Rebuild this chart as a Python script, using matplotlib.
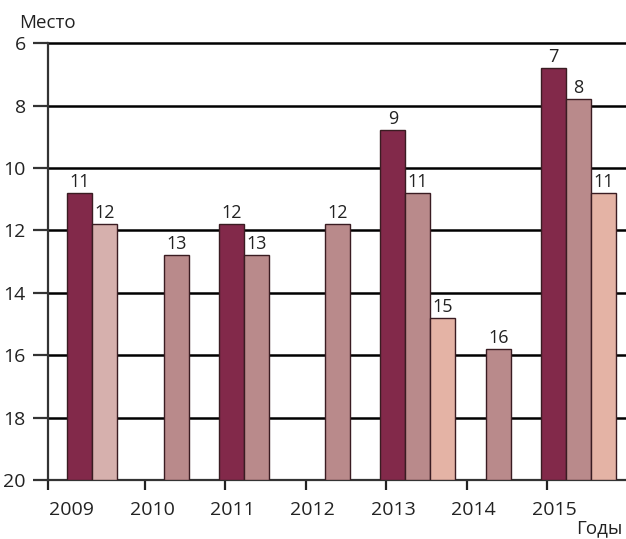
import numpy as np
import matplotlib.pyplot as plt
from matplotlib.transforms import ScaledTranslation

plt.rcParams['font.family'] = ['Open Sans', 'DejaVu Sans']

years = ["2009", "2010", "2011", "2012", "2013", "2014", "2015"]
# place (rank) per year, None = no bar
dark = [11, None, 12, None, 9, None, 7]
mid = [12, 13, 13, 12, 11, 16, 8]
light = [None, None, None, None, 15, None, 11]

c_dark = "#82294a"
c_mid = "#b98a8b"
c_light = "#e4b3a5"
c_first = "#d6b0ad"   # 2009 second bar is paler

fig = plt.figure(figsize=(6.26, 5.39), dpi=100)
ax = fig.add_axes([0.0767, 0.1095, 0.9233, 0.8105])

x = np.arange(len(years)).astype(float)
w = 0.311
start = -0.075
top_pad = 0.2
first_shift = 0.105  # first group sits a bit further right in the original

series = [(dark, c_dark), (mid, c_mid), (light, c_light)]
for j, (vals, col) in enumerate(series):
    for i, v in enumerate(vals):
        if v is None:
            continue
        color = c_first if (j == 1 and i == 0) else col
        xl = x[i] + start + j * w + (first_shift if i == 0 else 0)
        ax.bar(xl, (v - top_pad) - 20, bottom=20, width=w, align='edge',
               color=color, edgecolor="#3a1c22", linewidth=1.0, zorder=3)
        ax.annotate(str(v), (xl + w / 2, v - top_pad), xytext=(0, 1.5),
                    textcoords='offset points', ha='center', va='bottom',
                    fontsize=13, color="#222222")

ax.set_ylim(20, 6)
ax.set_xlim(-0.205, 6.98)
ax.set_yticks(range(6, 21, 2))
for yv in range(6, 20, 2):
    ax.axhline(yv, color="black", lw=1.8, zorder=1, clip_on=False)

ax.set_xticks(x)
ax.set_xticklabels(years)
ax.xaxis.get_major_ticks()[0].tick1line.set_visible(False)
ax.set_xticks([-0.205], minor=True)
ax.tick_params(axis='x', which='both', length=7, width=1.6, color="#222222",
               labelsize=14, pad=8, labelcolor="#222222")
ax.tick_params(axis='y', length=11, width=1.6, color="#333333",
               labelsize=14, pad=5, labelcolor="#222222")
for lab in ax.get_xticklabels():
    lab.set_transform(lab.get_transform() + ScaledTranslation(0.07, 0, fig.dpi_scale_trans))

for s in ["top", "right"]:
    ax.spines[s].set_visible(False)
for s in ["left", "bottom"]:
    ax.spines[s].set_linewidth(1.6)
    ax.spines[s].set_color("#333333")

fig.text(47 / 626, 1 - 23 / 539, "Место", ha='center', va='center',
         fontsize=13.5, color="#222222")
fig.text(622 / 626, 1 - 528 / 539, "Годы", ha='right', va='center',
         fontsize=13.5, color="#222222")

fig.savefig("out.png", dpi=100)
